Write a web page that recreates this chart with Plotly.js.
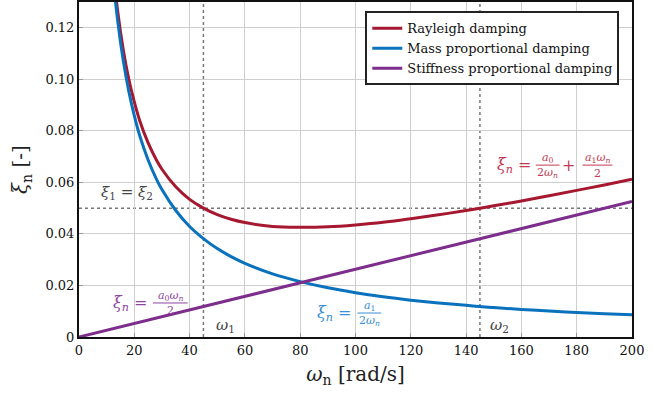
<!DOCTYPE html>
<html>
<head>
<meta charset="utf-8">
<script src="https://cdn.plot.ly/plotly-3.0.1.min.js"></script>
<style>html,body{margin:0;padding:0;background:#fff;}#chart{width:654px;height:396px;}</style>
</head>
<body>
<div id="chart"></div>
<script>
// Natural frequency samples (rad/s)
const omega = [10,12,14,16,18,20,22,25,28,30,35,40,45,50,55,60,70,80,90,100,110,120,130,140,145,150,160,170,180,190,200];
// Rayleigh damping ratio
const rayleighXi = [0.1743,0.1463,0.1263,0.1115,0.1001,0.0912,0.0838,0.0753,0.0687,0.0651,0.0583,0.0534,0.0500,0.0475,0.0457,0.0444,0.0429,0.0426,0.0428,0.0435,0.0445,0.0459,0.0474,0.0491,0.0500,0.0509,0.0528,0.0548,0.0569,0.0590,0.0612];
// Mass proportional damping ratio
const massXi = [0.1717,0.1431,0.1226,0.1073,0.0954,0.0859,0.0780,0.0687,0.0613,0.0572,0.0491,0.0429,0.0382,0.0343,0.0312,0.0286,0.0245,0.0215,0.0191,0.0172,0.0156,0.0143,0.0132,0.0123,0.0118,0.0114,0.0107,0.0101,0.0095,0.0090,0.0086];
// Stiffness proportional damping ratio
const stiffOmega = [0,50,100,150,200];
const stiffXi = [0,0.0132,0.0263,0.0395,0.0526];
// Reference frequencies and target damping
const omega1 = 45, omega2 = 145, xiTarget = 0.05;
const xTicks = [0,20,40,60,80,100,120,140,160,180,200];
const yTicks = [0,0.02,0.04,0.06,0.08,0.10,0.12];
const yTickText = ["0","0.02","0.04","0.06","0.08","0.10","0.12"];

const RED = "#a5182f", BLUE = "#0a72bd", PURPLE = "#7d2e8d";
const RED_L = "#c23a52", BLUE_L = "#3a8ed2", PURPLE_L = "#8f45a2";
const FONT = "DejaVu Serif";

const traces = [
  {x: omega, y: rayleighXi, mode: "lines", name: "Rayleigh damping", line: {color: RED, width: 3, shape: "spline"}},
  {x: omega, y: massXi, mode: "lines", name: "Mass proportional damping", line: {color: BLUE, width: 3, shape: "spline"}},
  {x: stiffOmega, y: stiffXi, mode: "lines", name: "Stiffness proportional damping", line: {color: PURPLE, width: 3}}
];

const annotations = [];
const shapes = [
  {type: "line", xref: "x", yref: "paper", x0: omega1, x1: omega1, y0: 0, y1: 1, line: {color: "#777", width: 1.5, dash: "dot"}, layer: "below"},
  {type: "line", xref: "x", yref: "paper", x0: omega2, x1: omega2, y0: 0, y1: 1, line: {color: "#777", width: 1.5, dash: "dot"}, layer: "below"},
  {type: "line", xref: "paper", yref: "y", x0: 0, x1: 1, y0: xiTarget, y1: xiTarget, line: {color: "#777", width: 1.5, dash: "dot"}, layer: "below"}
];

function txt(x, y, text, color, size, xanchor) {
  annotations.push({x: x, y: y, xref: "x", yref: "y", text: text, showarrow: false,
    font: {family: FONT, size: size, color: color}, xanchor: xanchor || "center", yanchor: "middle"});
}
function frac(xc, yb, hw, num, den, color) {
  txt(xc, yb + 0.0029, num, color, 11);
  txt(xc, yb - 0.0031, den, color, 11);
  shapes.push({type: "line", xref: "x", yref: "y", x0: xc - hw, x1: xc + hw, y0: yb, y1: yb, line: {color: color, width: 1}});
}

txt(17.5, 0.0561, "<i>ξ</i><sub>1</sub> = <i>ξ</i><sub>2</sub>", "#444", 15);
txt(53, 0.0045, "<i>ω</i><sub>1</sub>", "#444", 15);
txt(152, 0.0045, "<i>ω</i><sub>2</sub>", "#444", 15);

txt(25.5, 0.0130, "<i>ξ<sub>n</sub></i> =", PURPLE_L, 16, "right");
frac(33.0, 0.0132, 6.3, "<i>a</i><sub>0</sub><i>ω<sub>n</sub></i>", "2", PURPLE_L);
txt(99.5, 0.0093, "<i>ξ<sub>n</sub></i> =", BLUE_L, 16, "right");
frac(105.0, 0.0093, 4.3, "<i>a</i><sub>1</sub>", "2<i>ω<sub>n</sub></i>", BLUE_L);
txt(164.5, 0.0665, "<i>ξ<sub>n</sub></i> =", RED_L, 16, "right");
frac(169.5, 0.0667, 4.3, "<i>a</i><sub>0</sub>", "2<i>ω<sub>n</sub></i>", RED_L);
txt(177.0, 0.0665, "+", RED_L, 16);
frac(187.5, 0.0667, 5.4, "<i>a</i><sub>1</sub><i>ω<sub>n</sub></i>", "2", RED_L);

const layout = {
  width: 654, height: 396,
  margin: {l: 79, r: 22, t: 2, b: 59},
  paper_bgcolor: "#fff", plot_bgcolor: "#fff",
  font: {family: FONT, size: 13, color: "#111"},
  showlegend: true,
  legend: {x: 0.977, y: 0.972, xanchor: "right", yanchor: "top", bgcolor: "#fff",
    bordercolor: "#222", borderwidth: 2, font: {family: FONT, size: 13, color: "#111"},
    itemwidth: 30, tracegroupgap: 0},
  xaxis: {range: [0, 200], tickvals: xTicks, showgrid: true, gridcolor: "#cfcfcf", gridwidth: 1,
    zeroline: false, showline: true, linecolor: "#111", linewidth: 2, mirror: true,
    ticks: "inside", ticklen: 4, tickcolor: "#999",
    tickfont: {family: FONT, size: 13, color: "#111"},
    title: {text: "<i>ω</i><sub>n</sub> [rad/s]", font: {family: FONT, size: 20, color: "#222"}, standoff: 10}},
  yaxis: {range: [0, 0.13], tickvals: yTicks, ticktext: yTickText, showgrid: true, gridcolor: "#cfcfcf", gridwidth: 1,
    zeroline: false, showline: true, linecolor: "#111", linewidth: 2, mirror: true,
    ticks: "inside", ticklen: 4, tickcolor: "#999",
    tickfont: {family: FONT, size: 13, color: "#111"},
    title: {text: "<i>ξ</i><sub>n</sub> [-]", font: {family: FONT, size: 20, color: "#222"}, standoff: 12}},
  shapes: shapes,
  annotations: annotations
};

Plotly.newPlot("chart", traces, layout, {displayModeBar: false, staticPlot: true});
</script>
</body>
</html>
